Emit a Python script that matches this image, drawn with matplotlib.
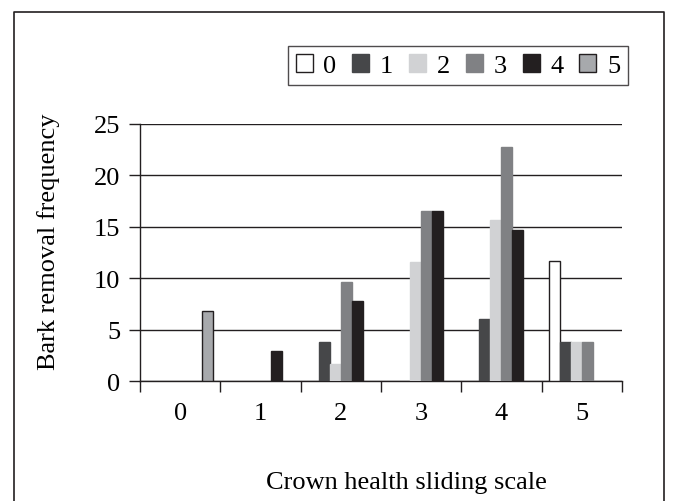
import numpy as np
import matplotlib.pyplot as plt
from matplotlib.patches import Patch
from matplotlib.lines import Line2D

# Crown health categories on the x axis
categories = ['0', '1', '2', '3', '4', '5']
series_names = ['0', '1', '2', '3', '4', '5']

# Bark removal frequency, one list per legend series (value for each category)
s0 = [0, 0, 0, 0, 0, 11.7]
s1 = [0, 0, 3.8, 0, 6.0, 3.8]
s2 = [0, 0, 1.7, 11.6, 15.7, 3.8]
s3 = [0, 0, 9.6, 16.5, 22.8, 3.8]
s4 = [0, 2.9, 7.8, 16.5, 14.7, 0]
s5 = [6.8, 0, 0, 0, 0, 0]
series = [s0, s1, s2, s3, s4, s5]

colors = ['#ffffff', '#464749', '#d1d2d4', '#808184', '#231f20', '#a7a9ac']
edges = ['#231f20', '#464749', '#d1d2d4', '#808184', '#231f20', '#231f20']

plt.rcParams['font.family'] = ['Liberation Serif', 'DejaVu Serif']
plt.rcParams['font.size'] = 19

fig = plt.figure(figsize=(6.74, 5.02), dpi=100)
ax = fig.add_axes([0.2077, 0.239, 0.9228 - 0.2077, 0.751 - 0.239])

x = np.arange(len(categories))
w = 0.137
for i, vals in enumerate(series):
    offs = (i - 2.5) * w
    for xi, v in zip(x, vals):
        if v > 0:
            ax.bar(xi + offs, v, width=w, color=colors[i], edgecolor=edges[i],
                   linewidth=1.0, zorder=3)

ax.set_xlim(-0.5, 5.5)
ax.set_ylim(0, 25)
ax.set_yticks([0, 5, 10, 15, 20, 25])
ax.yaxis.grid(True, color='#231f20', linewidth=1.0, zorder=0)
ax.set_axisbelow(True)

# boundary ticks without labels, category labels on minor ticks
ax.set_xticks(np.arange(-0.5, 6.0, 1.0))
ax.set_xticklabels([])
ax.set_xticks(x, minor=True)
ax.set_xticklabels(categories, minor=True)
ax.tick_params(axis='x', which='major', direction='out', length=8, width=1, color='#231f20')
ax.tick_params(axis='x', which='minor', length=0, pad=15)
ax.tick_params(axis='y', direction='out', length=8, width=1, color='#231f20', pad=6)

for sp in ['top', 'right']:
    ax.spines[sp].set_visible(False)
for sp in ['left', 'bottom']:
    ax.spines[sp].set_color('#231f20')
    ax.spines[sp].set_linewidth(1.0)

ax.set_ylabel('Bark removal frequency')
ax.yaxis.set_label_coords(-0.165, 0.545)
ax.set_xlabel('Crown health sliding scale')
ax.xaxis.set_label_coords(0.552, -0.35)

handles = [Patch(facecolor=colors[i], edgecolor=edges[i] if i in (0, 5) else colors[i],
                 linewidth=1.0) for i in range(6)]
leg = fig.legend(handles, series_names, ncol=6, loc='upper right',
                 bbox_to_anchor=(628 / 674, 1 - 47 / 502), borderaxespad=0,
                 frameon=True, fancybox=False,
                 edgecolor='#231f20', handlelength=0.65, handleheight=0.65,
                 handletextpad=0.4, columnspacing=0.6, borderpad=0.3, fontsize=19)
leg.get_frame().set_linewidth(1.0)

# outer frame of the figure panel
fx0, fx1 = 14 / 674, 664 / 674
fy1 = 1 - 13 / 502
fig.add_artist(Line2D([fx0, fx0, fx1, fx1], [-0.1, fy1, fy1, -0.1],
                      color='#231f20', linewidth=1.2, transform=fig.transFigure))

fig.savefig('out.png', dpi=100)
